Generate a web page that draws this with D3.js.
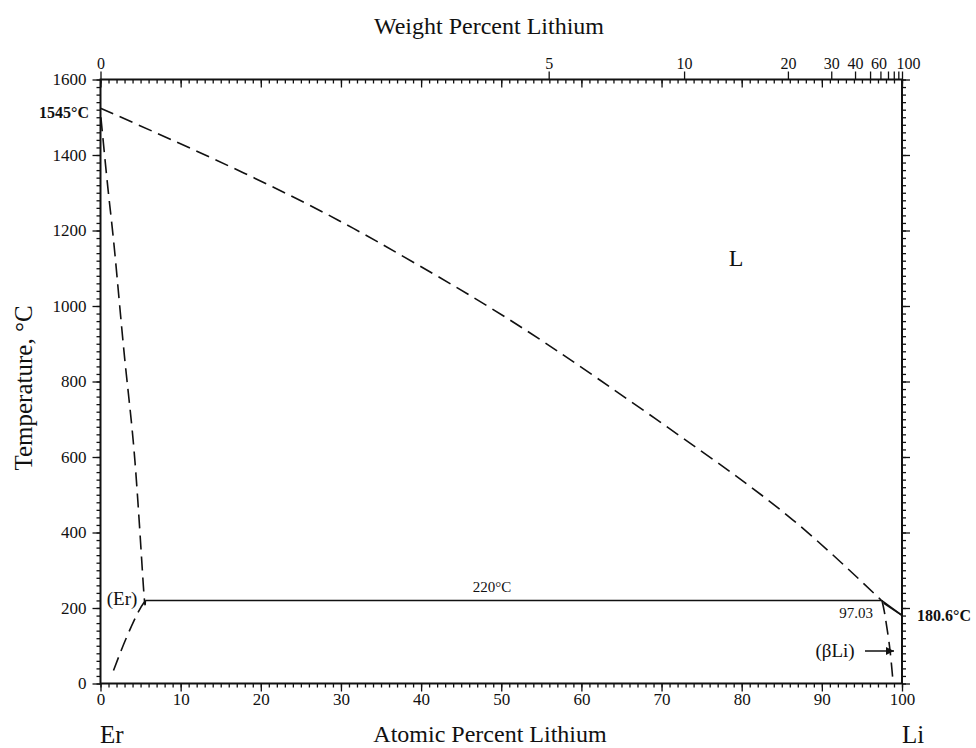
<!DOCTYPE html>
<html>
<head>
<meta charset="utf-8">
<script src="https://cdn.jsdelivr.net/npm/d3@7"></script>
<style>
  body { margin: 0; background: #fff; }
  svg text { font-family: "Liberation Serif", "DejaVu Serif", serif; fill: #111; }
</style>
</head>
<body>
<svg id="chart" width="976" height="748"></svg>
<script>
// tick values
var atMajor = [0, 10, 20, 30, 40, 50, 60, 70, 80, 90, 100];
var tMajor = [0, 200, 400, 600, 800, 1000, 1200, 1400, 1600];
var wtTicks = [0, 5, 10, 20, 30, 40, 50, 60, 70, 80, 90, 100];
var wtLabels = [0, 5, 10, 20, 30, 40, 60, 100];

// phase boundaries (at.% Li, deg C)
var liquidusAt = [0, 8.9, 19.3, 29.6, 39.6, 50.7, 62.3, 74.8, 86.4, 97.4];
var liquidusT = [1524, 1440, 1338, 1228, 1109, 968, 804, 618, 433, 221];
var liqLiAt = [97.4, 100];
var liqLiT = [221, 180.6];
var solLiAt = [97.7, 100];
var solLiT = [213, 180.6];
var erSolvusAt = [0.05, 0.97, 1.81, 3.06, 4.30, 5.34, 5.6];
var erSolvusT = [1500, 1303, 1135, 852, 588, 261, 220];
var erLowAt = [5.6, 4.72, 3.47, 2.35, 1.40];
var erLowT = [220, 190, 133, 75, 22];
var liSolvusAt = [97.5, 97.8, 98.1, 98.5, 98.9];
var liSolvusT = [220, 190, 150, 89, 0];
var eutAt = [5.6, 97.4];
var eutT = [220, 220];

var svg = d3.select("#chart");
var plotL = 100.5, plotR = 902, plotT = 79.5, plotB = 683.5;

var x = d3.scaleLinear().domain([0, 100]).range([plotL, plotR]);
var y = d3.scaleLinear().domain([0, 1600]).range([plotB, plotT]);

// weight % -> atomic % for the top axis (Er 167.26, Li 6.94)
function wtToAt(w) {
    var li = w / 6.94, er = (100 - w) / 167.26;
    return 100 * li / (li + er);
}
var xWt = d3.scaleLinear().domain(wtTicks).range(wtTicks.map(function(w) { return x(wtToAt(w)); }));

var minorAt = d3.range(0, 101, 1);
var minorT = d3.range(0, 1601, 20);

function styleAxis(g) {
    g.select(".domain").remove();
    g.selectAll(".tick line").attr("stroke", "#111").attr("stroke-width", 1.3);
    g.selectAll(".tick text").style("font-size", "17px").attr("fill", "#111");
}

// bottom
svg.append("g").attr("transform", "translate(0," + plotB + ")")
    .call(d3.axisBottom(x).tickValues(minorAt).tickSize(4).tickFormat(""))
    .call(styleAxis);
svg.append("g").attr("transform", "translate(0," + plotB + ")")
    .call(d3.axisBottom(x).tickValues(atMajor).tickSize(8).tickPadding(1).tickFormat(d3.format("d")))
    .call(styleAxis);

// top, atomic ticks inside
svg.append("g").attr("transform", "translate(0," + plotT + ")")
    .call(d3.axisTop(x).tickValues(minorAt).tickSize(-4).tickFormat(""))
    .call(styleAxis);
svg.append("g").attr("transform", "translate(0," + plotT + ")")
    .call(d3.axisTop(x).tickValues(atMajor).tickSize(-8).tickFormat(""))
    .call(styleAxis);
// top, weight ticks outside
var wtAxis = svg.append("g").attr("transform", "translate(0," + plotT + ")")
    .call(d3.axisTop(xWt).tickValues(wtTicks).tickSize(8).tickPadding(3)
        .tickFormat(function(d) { return wtLabels.indexOf(d) >= 0 ? d : ""; }))
    .call(styleAxis);
wtAxis.selectAll(".tick text").style("font-size", "16px")
    .attr("dx", function(d) { return d === 100 ? 6 : (d === 60 ? -2 : 0); });

// left
svg.append("g").attr("transform", "translate(" + plotL + ",0)")
    .call(d3.axisLeft(y).tickValues(minorT).tickSize(4).tickFormat(""))
    .call(styleAxis);
svg.append("g").attr("transform", "translate(" + plotL + ",0)")
    .call(d3.axisLeft(y).tickValues(tMajor).tickSize(8).tickPadding(6).tickFormat(d3.format("d")))
    .call(styleAxis);

// right
svg.append("g").attr("transform", "translate(" + plotR + ",0)")
    .call(d3.axisRight(y).tickValues(minorT).tickSize(4).tickFormat(""))
    .call(styleAxis);
svg.append("g").attr("transform", "translate(" + plotR + ",0)")
    .call(d3.axisRight(y).tickValues(tMajor).tickSize(8).tickFormat(""))
    .call(styleAxis);

// frame
svg.append("rect")
    .attr("x", plotL).attr("y", plotT)
    .attr("width", plotR - plotL).attr("height", plotB - plotT)
    .attr("fill", "none").attr("stroke", "#111").attr("stroke-width", 2);

function zip(a, b) { return a.map(function(v, i) { return [v, b[i]]; }); }

var straight = d3.line().x(function(d) { return x(d[0]); }).y(function(d) { return y(d[1]); });
var smooth = d3.line().curve(d3.curveNatural).x(function(d) { return x(d[0]); }).y(function(d) { return y(d[1]); });

function draw(gen, pts, dashed) {
    svg.append("path").datum(pts)
        .attr("d", gen)
        .attr("fill", "none")
        .attr("stroke", "#111")
        .attr("stroke-width", 1.6)
        .attr("stroke-dasharray", dashed ? "14,7" : null);
}

draw(smooth, zip(liquidusAt, liquidusT), true);
draw(straight, zip(liqLiAt, liqLiT), false);
draw(straight, zip(solLiAt, solLiT), false);
draw(smooth, zip(erSolvusAt, erSolvusT), true);
draw(smooth, zip(erLowAt, erLowT), true);
draw(smooth, zip(liSolvusAt, liSolvusT), true);
draw(straight, zip(eutAt, eutT), false);

// arrow to (βLi)
svg.append("defs").append("marker")
    .attr("id", "head").attr("viewBox", "0 0 10 10")
    .attr("refX", 10).attr("refY", 5)
    .attr("markerWidth", 11).attr("markerHeight", 8)
    .attr("markerUnits", "userSpaceOnUse").attr("orient", "auto")
    .append("path").attr("d", "M0,0L10,5L0,10Z").attr("fill", "#111");
svg.append("line")
    .attr("x1", 865).attr("y1", 651).attr("x2", x(99.0)).attr("y2", 651)
    .attr("stroke", "#111").attr("stroke-width", 1.5)
    .attr("marker-end", "url(#head)");

// texts
function label(t, px, py, size, anchor, weight) {
    return svg.append("text").attr("x", px).attr("y", py)
        .attr("text-anchor", anchor || "middle")
        .style("font-size", size + "px")
        .style("font-weight", weight || "normal")
        .text(t);
}

label("Weight Percent Lithium", 489, 34, 24);
label("Atomic Percent Lithium", 490, 742, 24);
label("Er", 100, 743, 25, "start");
label("Li", 902, 743, 25, "start");
svg.append("text")
    .attr("transform", "translate(32,388) rotate(-90)")
    .attr("text-anchor", "middle")
    .style("font-size", "25px")
    .text("Temperature, °C");

label("L", 736, 266, 24);
label("(Er)", 122, 605, 19);
label("220°C", 492, 592, 15);
label("97.03", 856, 618, 15);
label("(βLi)", 835, 657, 19);
label("1545°C", 89, 118, 16, "end", "bold");
label("180.6°C", 917, 621, 16, "start", "bold");
</script>
</body>
</html>
